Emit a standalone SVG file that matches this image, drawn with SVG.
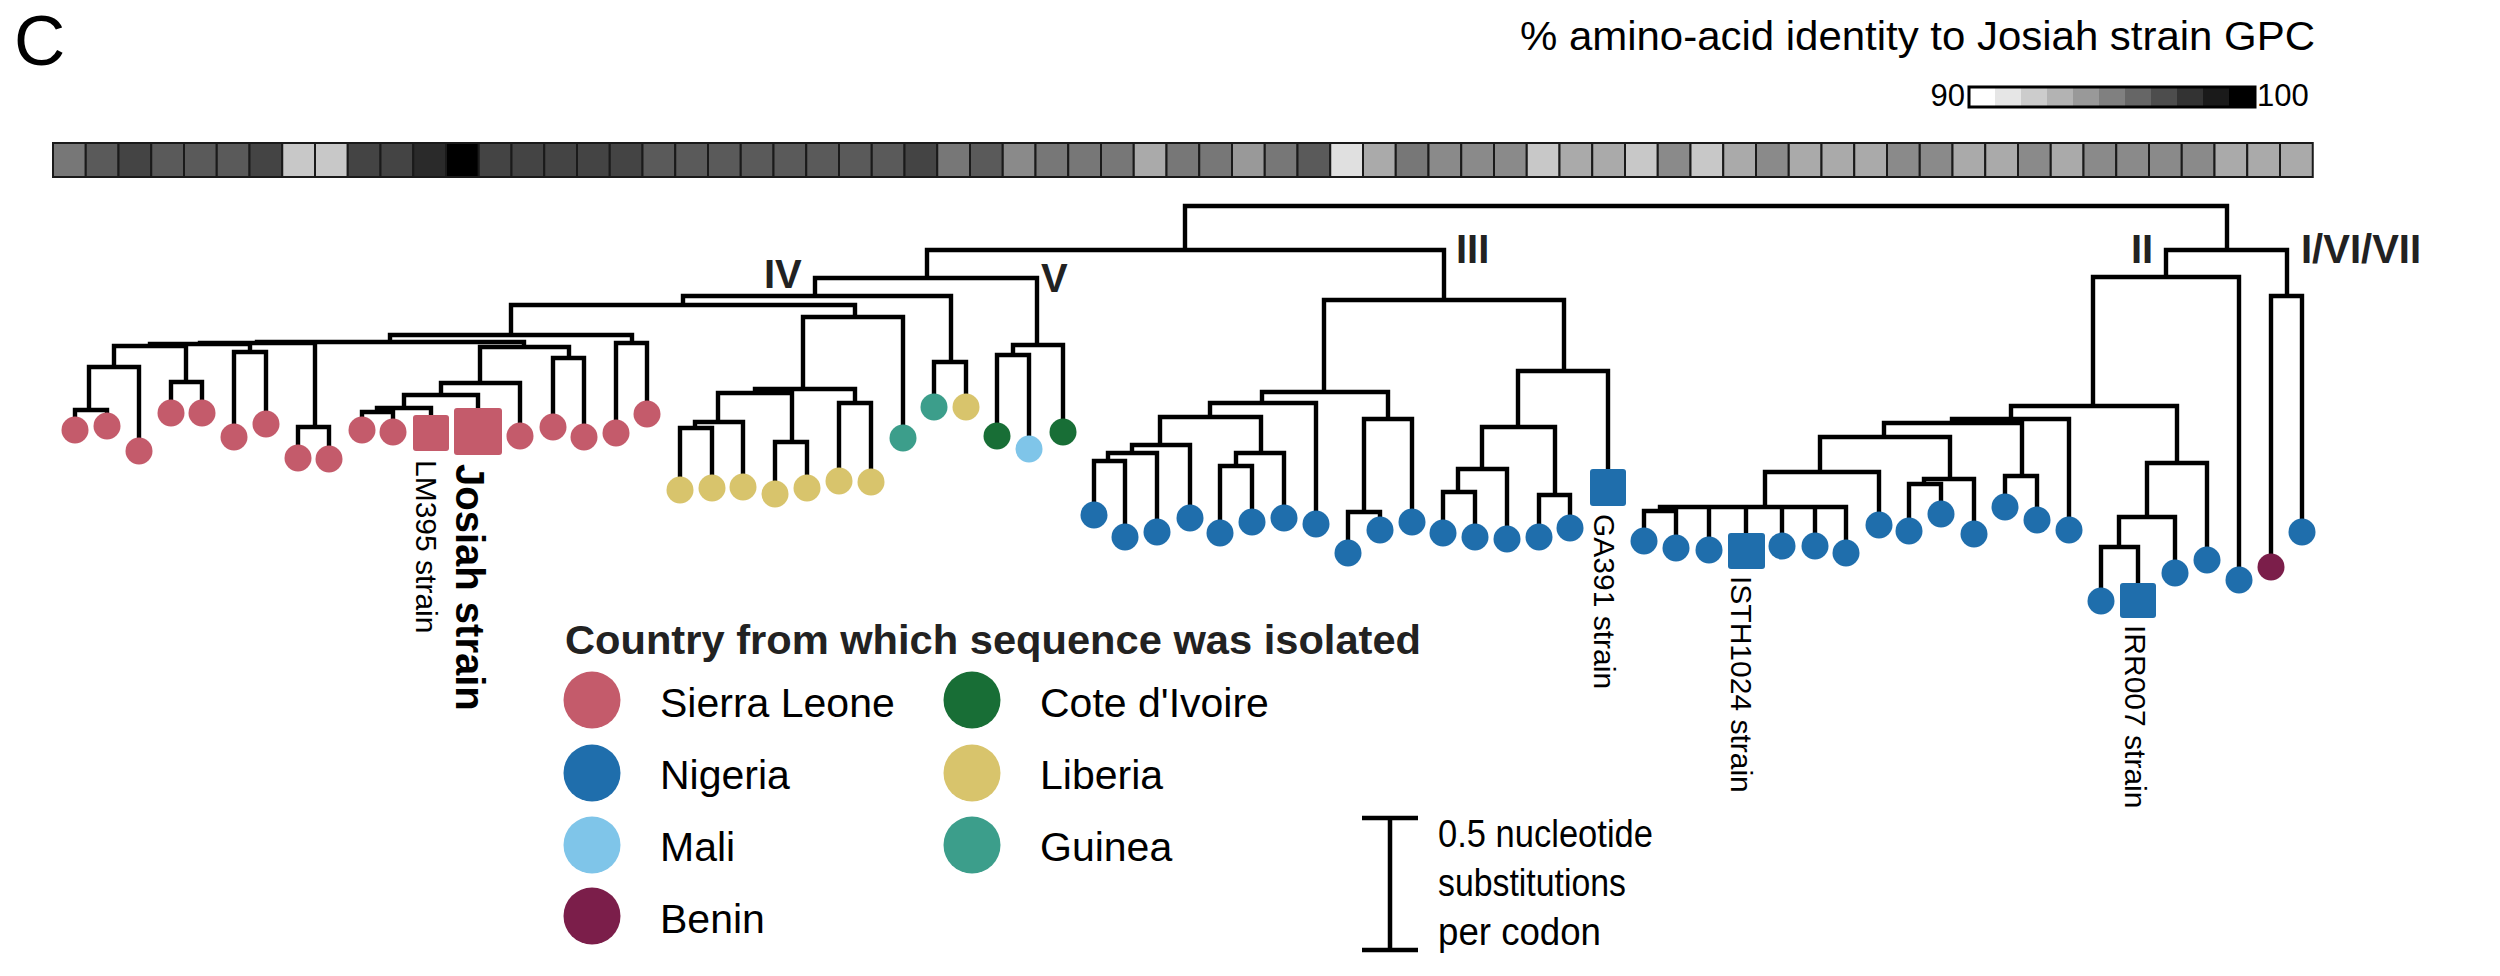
<svg xmlns="http://www.w3.org/2000/svg" width="2500" height="976" viewBox="0 0 2500 976">
<style>
.br{fill:none;stroke:#000;stroke-width:4.4;stroke-linejoin:miter}
.sl{fill:#C45B6B}.ng{fill:#1F6EAC}.ml{fill:#7FC5E9}.bn{fill:#7B1E4A}.ci{fill:#186E36}.lb{fill:#D8C46C}.gn{fill:#3C9E8B}
.t{font-family:"Liberation Sans",Arial,sans-serif;fill:#000}
.b{font-family:"Liberation Sans",Arial,sans-serif;font-weight:bold;fill:#222}
.hm rect{stroke:#1a1a1a;stroke-width:2}
</style>
<rect width="2500" height="976" fill="#fff"/>
<text class="t" x="14" y="65" font-size="71">C</text>
<text class="t" x="2315" y="50" font-size="41" text-anchor="end" textLength="795" lengthAdjust="spacingAndGlyphs">% amino-acid identity to Josiah strain GPC</text>
<g id="colorscale">
<text class="t" x="1965" y="106" font-size="31" text-anchor="end">90</text>
<g>
<rect x="1969" y="87" width="26" height="20" fill="#fff"/><rect x="1995" y="87" width="26" height="20" fill="#e6e6e6"/><rect x="2021" y="87" width="26" height="20" fill="#ccc"/><rect x="2047" y="87" width="26" height="20" fill="#b3b3b3"/><rect x="2073" y="87" width="26" height="20" fill="#999"/><rect x="2099" y="87" width="26" height="20" fill="#808080"/><rect x="2125" y="87" width="26" height="20" fill="#666"/><rect x="2151" y="87" width="26" height="20" fill="#4d4d4d"/><rect x="2177" y="87" width="26" height="20" fill="#333"/><rect x="2203" y="87" width="26" height="20" fill="#1a1a1a"/><rect x="2229" y="87" width="26" height="20" fill="#000"/>
</g>
<rect x="1969" y="87" width="286" height="20" fill="none" stroke="#000" stroke-width="3"/>
<text class="t" x="2257" y="106" font-size="31">100</text>
</g>
<g id="heatmap" class="hm">
<rect x="53" y="143" width="32.75" height="34" fill="#777"/>
<rect x="85.75" y="143" width="32.75" height="34" fill="#5a5a5a"/>
<rect x="118.5" y="143" width="32.75" height="34" fill="#444"/>
<rect x="151.25" y="143" width="32.75" height="34" fill="#5a5a5a"/>
<rect x="184" y="143" width="32.75" height="34" fill="#5a5a5a"/>
<rect x="216.75" y="143" width="32.75" height="34" fill="#5a5a5a"/>
<rect x="249.5" y="143" width="32.75" height="34" fill="#444"/>
<rect x="282.25" y="143" width="32.75" height="34" fill="#c8c8c8"/>
<rect x="315" y="143" width="32.75" height="34" fill="#c8c8c8"/>
<rect x="347.75" y="143" width="32.75" height="34" fill="#444"/>
<rect x="380.5" y="143" width="32.75" height="34" fill="#444"/>
<rect x="413.25" y="143" width="32.75" height="34" fill="#2a2a2a"/>
<rect x="446" y="143" width="32.75" height="34" fill="#000"/>
<rect x="478.75" y="143" width="32.75" height="34" fill="#444"/>
<rect x="511.5" y="143" width="32.75" height="34" fill="#444"/>
<rect x="544.25" y="143" width="32.75" height="34" fill="#444"/>
<rect x="577" y="143" width="32.75" height="34" fill="#444"/>
<rect x="609.75" y="143" width="32.75" height="34" fill="#444"/>
<rect x="642.5" y="143" width="32.75" height="34" fill="#5a5a5a"/>
<rect x="675.25" y="143" width="32.75" height="34" fill="#5a5a5a"/>
<rect x="708" y="143" width="32.75" height="34" fill="#5a5a5a"/>
<rect x="740.75" y="143" width="32.75" height="34" fill="#5a5a5a"/>
<rect x="773.5" y="143" width="32.75" height="34" fill="#5a5a5a"/>
<rect x="806.25" y="143" width="32.75" height="34" fill="#5a5a5a"/>
<rect x="839" y="143" width="32.75" height="34" fill="#5a5a5a"/>
<rect x="871.75" y="143" width="32.75" height="34" fill="#5a5a5a"/>
<rect x="904.5" y="143" width="32.75" height="34" fill="#444"/>
<rect x="937.25" y="143" width="32.75" height="34" fill="#777"/>
<rect x="970" y="143" width="32.75" height="34" fill="#5a5a5a"/>
<rect x="1002.75" y="143" width="32.75" height="34" fill="#8a8a8a"/>
<rect x="1035.5" y="143" width="32.75" height="34" fill="#777"/>
<rect x="1068.25" y="143" width="32.75" height="34" fill="#777"/>
<rect x="1101" y="143" width="32.75" height="34" fill="#777"/>
<rect x="1133.75" y="143" width="32.75" height="34" fill="#aaa"/>
<rect x="1166.5" y="143" width="32.75" height="34" fill="#777"/>
<rect x="1199.25" y="143" width="32.75" height="34" fill="#777"/>
<rect x="1232" y="143" width="32.75" height="34" fill="#999"/>
<rect x="1264.75" y="143" width="32.75" height="34" fill="#777"/>
<rect x="1297.5" y="143" width="32.75" height="34" fill="#5a5a5a"/>
<rect x="1330.25" y="143" width="32.75" height="34" fill="#e0e0e0"/>
<rect x="1363" y="143" width="32.75" height="34" fill="#aaa"/>
<rect x="1395.75" y="143" width="32.75" height="34" fill="#777"/>
<rect x="1428.5" y="143" width="32.75" height="34" fill="#8a8a8a"/>
<rect x="1461.25" y="143" width="32.75" height="34" fill="#8a8a8a"/>
<rect x="1494" y="143" width="32.75" height="34" fill="#8a8a8a"/>
<rect x="1526.75" y="143" width="32.75" height="34" fill="#c8c8c8"/>
<rect x="1559.5" y="143" width="32.75" height="34" fill="#aaa"/>
<rect x="1592.25" y="143" width="32.75" height="34" fill="#aaa"/>
<rect x="1625" y="143" width="32.75" height="34" fill="#c8c8c8"/>
<rect x="1657.75" y="143" width="32.75" height="34" fill="#8a8a8a"/>
<rect x="1690.5" y="143" width="32.75" height="34" fill="#c8c8c8"/>
<rect x="1723.25" y="143" width="32.75" height="34" fill="#aaa"/>
<rect x="1756" y="143" width="32.75" height="34" fill="#8a8a8a"/>
<rect x="1788.75" y="143" width="32.75" height="34" fill="#aaa"/>
<rect x="1821.5" y="143" width="32.75" height="34" fill="#aaa"/>
<rect x="1854.25" y="143" width="32.75" height="34" fill="#aaa"/>
<rect x="1887" y="143" width="32.75" height="34" fill="#8a8a8a"/>
<rect x="1919.75" y="143" width="32.75" height="34" fill="#8a8a8a"/>
<rect x="1952.5" y="143" width="32.75" height="34" fill="#aaa"/>
<rect x="1985.25" y="143" width="32.75" height="34" fill="#aaa"/>
<rect x="2018" y="143" width="32.75" height="34" fill="#8a8a8a"/>
<rect x="2050.75" y="143" width="32.75" height="34" fill="#aaa"/>
<rect x="2083.5" y="143" width="32.75" height="34" fill="#8a8a8a"/>
<rect x="2116.25" y="143" width="32.75" height="34" fill="#8a8a8a"/>
<rect x="2149" y="143" width="32.75" height="34" fill="#8a8a8a"/>
<rect x="2181.75" y="143" width="32.75" height="34" fill="#8a8a8a"/>
<rect x="2214.5" y="143" width="32.75" height="34" fill="#aaa"/>
<rect x="2247.25" y="143" width="32.75" height="34" fill="#aaa"/>
<rect x="2280" y="143" width="32.75" height="34" fill="#aaa"/>
</g>
<g id="connectors" class="br">
<path d="M1185 250V206H2227V250"/>
<path d="M927 278V250H1444V300"/>
<path d="M815 296V278H1037V345"/>
<path d="M683 305V296H951V362"/>
<path d="M511 335V305H855V317"/>
<path d="M390 342V335H632V343"/>
<path d="M257 343V342H524V347"/>
<path d="M200 344V343H315V427"/>
<path d="M150 346V344H250V352"/>
<path d="M114 367V346H186V382"/>
<path d="M89 410V367H139V451"/>
<path d="M75 430V410H107V426"/>
<path d="M171 413V382H202V413"/>
<path d="M234 437V352H266V424"/>
<path d="M298 458V427H329V459"/>
<path d="M480 383V347H569V358"/>
<path d="M441 395V383H520V436"/>
<path d="M404 408V395H478V432"/>
<path d="M377 412V408H431V433"/>
<path d="M362 430V412H393V432"/>
<path d="M553 427V358H584V437"/>
<path d="M616 433V343H647V414"/>
<path d="M803 389V317H903V438"/>
<path d="M755 393V389H855V403"/>
<path d="M718 422V393H792V442"/>
<path d="M695 428V422H743V487"/>
<path d="M680 490V428H712V488"/>
<path d="M775 494V442H807V488"/>
<path d="M839 481V403H871V482"/>
<path d="M934 407V362H966V407"/>
<path d="M1013 355V345H1063V432"/>
<path d="M997 436V355H1029V449"/>
<path d="M1324 392V300H1564V371"/>
<path d="M1262 403V392H1388V419"/>
<path d="M1210 417V403H1316V524"/>
<path d="M1160 445V417H1261V453"/>
<path d="M1132 453V445H1190V518"/>
<path d="M1108 461V453H1157V532"/>
<path d="M1094 515V461H1125V537"/>
<path d="M1236 466V453H1284V518"/>
<path d="M1220 533V466H1252V522"/>
<path d="M1364 512V419H1412V522"/>
<path d="M1348 553V512H1380V530"/>
<path d="M1518 427V371H1608V488"/>
<path d="M1482 469V427H1555V495"/>
<path d="M1458 492V469H1507V539"/>
<path d="M1443 533V492H1475V537"/>
<path d="M1539 537V495H1570V528"/>
<path d="M2166 277V250H2287V296"/>
<path d="M2093 406V277H2239V580"/>
<path d="M2011 419V406H2177V463"/>
<path d="M1952 423V419H2069V530"/>
<path d="M1884 437V423H2022V476"/>
<path d="M1820 472V437H1950V479"/>
<path d="M1765 507V472H1879V525"/>
<path d="M1660 511V507H1846V553M1709 507V550M1746 507V552M1782 507V546M1815 507V546"/>
<path d="M1644 541V511H1676V548"/>
<path d="M1924 484V479H1974V534"/>
<path d="M1909 531V484H1941V514"/>
<path d="M2005 507V476H2037V520"/>
<path d="M2147 517V463H2207V560"/>
<path d="M2119 547V517H2175V573"/>
<path d="M2101 601V547H2138V600"/>
<path d="M2271 567V296H2302V532"/>
</g>
<g id="clade-labels">
<text class="b" x="764" y="288" font-size="40">IV</text>
<text class="b" x="1041" y="292" font-size="40">V</text>
<text class="b" x="1456" y="263" font-size="40">III</text>
<text class="b" x="2131" y="263" font-size="40">II</text>
<text class="b" x="2301" y="263" font-size="40">I/VI/VII</text>
</g>
<g id="tips">
<g id="sl1"><circle class="sl" cx="75" cy="430" r="13.5"/></g>
<g id="sl2"><circle class="sl" cx="107" cy="426" r="13.5"/></g>
<g id="sl3"><circle class="sl" cx="139" cy="451" r="13.5"/></g>
<g id="sl4"><circle class="sl" cx="171" cy="413" r="13.5"/></g>
<g id="sl5"><circle class="sl" cx="202" cy="413" r="13.5"/></g>
<g id="sl6"><circle class="sl" cx="234" cy="437" r="13.5"/></g>
<g id="sl7"><circle class="sl" cx="266" cy="424" r="13.5"/></g>
<g id="sl8"><circle class="sl" cx="298" cy="458" r="13.5"/></g>
<g id="sl9"><circle class="sl" cx="329" cy="459" r="13.5"/></g>
<g id="sl10"><circle class="sl" cx="362" cy="430" r="13.5"/></g>
<g id="sl11"><circle class="sl" cx="393" cy="432" r="13.5"/></g>
<g id="lm395"><rect class="sl" x="413" y="415" width="36" height="36" rx="3"/></g>
<g id="josiah"><rect class="sl" x="454" y="408" width="48" height="47" rx="3"/></g>
<g id="sl12"><circle class="sl" cx="520" cy="436" r="13.5"/></g>
<g id="sl13"><circle class="sl" cx="553" cy="427" r="13.5"/></g>
<g id="sl14"><circle class="sl" cx="584" cy="437" r="13.5"/></g>
<g id="sl15"><circle class="sl" cx="616" cy="433" r="13.5"/></g>
<g id="sl16"><circle class="sl" cx="647" cy="414" r="13.5"/></g>
<g id="lb1"><circle class="lb" cx="680" cy="490" r="13.5"/></g>
<g id="lb2"><circle class="lb" cx="712" cy="488" r="13.5"/></g>
<g id="lb3"><circle class="lb" cx="743" cy="487" r="13.5"/></g>
<g id="lb4"><circle class="lb" cx="775" cy="494" r="13.5"/></g>
<g id="lb5"><circle class="lb" cx="807" cy="488" r="13.5"/></g>
<g id="lb6"><circle class="lb" cx="839" cy="481" r="13.5"/></g>
<g id="lb7"><circle class="lb" cx="871" cy="482" r="13.5"/></g>
<g id="gn1"><circle class="gn" cx="903" cy="438" r="13.5"/></g>
<g id="gn2"><circle class="gn" cx="934" cy="407" r="13.5"/></g>
<g id="lb8"><circle class="lb" cx="966" cy="407" r="13.5"/></g>
<g id="ci1"><circle class="ci" cx="997" cy="436" r="13.5"/></g>
<g id="ml1"><circle class="ml" cx="1029" cy="449" r="13.5"/></g>
<g id="ci2"><circle class="ci" cx="1063" cy="432" r="13.5"/></g>
<g id="ng1"><circle class="ng" cx="1094" cy="515" r="13.5"/></g>
<g id="ng2"><circle class="ng" cx="1125" cy="537" r="13.5"/></g>
<g id="ng3"><circle class="ng" cx="1157" cy="532" r="13.5"/></g>
<g id="ng4"><circle class="ng" cx="1190" cy="518" r="13.5"/></g>
<g id="ng5"><circle class="ng" cx="1220" cy="533" r="13.5"/></g>
<g id="ng6"><circle class="ng" cx="1252" cy="522" r="13.5"/></g>
<g id="ng7"><circle class="ng" cx="1284" cy="518" r="13.5"/></g>
<g id="ng8"><circle class="ng" cx="1316" cy="524" r="13.5"/></g>
<g id="ng9"><circle class="ng" cx="1348" cy="553" r="13.5"/></g>
<g id="ng10"><circle class="ng" cx="1380" cy="530" r="13.5"/></g>
<g id="ng11"><circle class="ng" cx="1412" cy="522" r="13.5"/></g>
<g id="ng12"><circle class="ng" cx="1443" cy="533" r="13.5"/></g>
<g id="ng13"><circle class="ng" cx="1475" cy="537" r="13.5"/></g>
<g id="ng14"><circle class="ng" cx="1507" cy="539" r="13.5"/></g>
<g id="ng15"><circle class="ng" cx="1539" cy="537" r="13.5"/></g>
<g id="ng16"><circle class="ng" cx="1570" cy="528" r="13.5"/></g>
<g id="ga391"><rect class="ng" x="1590" y="469" width="36" height="37" rx="3"/></g>
<g id="ng17"><circle class="ng" cx="1644" cy="541" r="13.5"/></g>
<g id="ng18"><circle class="ng" cx="1676" cy="548" r="13.5"/></g>
<g id="ng19"><circle class="ng" cx="1709" cy="550" r="13.5"/></g>
<g id="isth1024"><rect class="ng" x="1728" y="533" width="37" height="36" rx="3"/></g>
<g id="ng20"><circle class="ng" cx="1782" cy="546" r="13.5"/></g>
<g id="ng21"><circle class="ng" cx="1815" cy="546" r="13.5"/></g>
<g id="ng22"><circle class="ng" cx="1846" cy="553" r="13.5"/></g>
<g id="ng23"><circle class="ng" cx="1879" cy="525" r="13.5"/></g>
<g id="ng24"><circle class="ng" cx="1909" cy="531" r="13.5"/></g>
<g id="ng25"><circle class="ng" cx="1941" cy="514" r="13.5"/></g>
<g id="ng26"><circle class="ng" cx="1974" cy="534" r="13.5"/></g>
<g id="ng27"><circle class="ng" cx="2005" cy="507" r="13.5"/></g>
<g id="ng28"><circle class="ng" cx="2037" cy="520" r="13.5"/></g>
<g id="ng29"><circle class="ng" cx="2069" cy="530" r="13.5"/></g>
<g id="ng30"><circle class="ng" cx="2101" cy="601" r="13.5"/></g>
<g id="irr007"><rect class="ng" x="2120" y="583" width="36" height="35" rx="3"/></g>
<g id="ng31"><circle class="ng" cx="2175" cy="573" r="13.5"/></g>
<g id="ng32"><circle class="ng" cx="2207" cy="560" r="13.5"/></g>
<g id="ng33"><circle class="ng" cx="2239" cy="580" r="13.5"/></g>
<g id="bn1"><circle class="bn" cx="2271" cy="567" r="13.5"/></g>
<g id="ng34"><circle class="ng" cx="2302" cy="532" r="13.5"/></g>
</g>
<g id="strain-labels">
<text class="t" font-size="30" transform="translate(416 460) rotate(90)">LM395 strain</text>
<text class="t" font-size="40" font-weight="bold" transform="translate(456 464) rotate(90)">Josiah strain</text>
<text class="t" font-size="30" transform="translate(1594 514) rotate(90)">GA391 strain</text>
<text class="t" font-size="30" transform="translate(1731 576) rotate(90)">ISTH1024 strain</text>
<text class="t" font-size="30" transform="translate(2125 625) rotate(90)">IRR007 strain</text>
</g>
<g id="legend">
<text class="b" x="565" y="654" font-size="40" textLength="856" lengthAdjust="spacingAndGlyphs">Country from which sequence was isolated</text>
<g id="leg-sl"><circle class="sl" cx="592" cy="700" r="28.5"/><text class="t" x="660" y="717" font-size="41">Sierra Leone</text></g>
<g id="leg-ng"><circle class="ng" cx="592" cy="773" r="28.5"/><text class="t" x="660" y="789" font-size="41">Nigeria</text></g>
<g id="leg-ml"><circle class="ml" cx="592" cy="845" r="28.5"/><text class="t" x="660" y="861" font-size="41">Mali</text></g>
<g id="leg-bn"><circle class="bn" cx="592" cy="916" r="28.5"/><text class="t" x="660" y="933" font-size="41">Benin</text></g>
<g id="leg-ci"><circle class="ci" cx="972" cy="700" r="28.5"/><text class="t" x="1040" y="717" font-size="41">Cote d'Ivoire</text></g>
<g id="leg-lb"><circle class="lb" cx="972" cy="773" r="28.5"/><text class="t" x="1040" y="789" font-size="41">Liberia</text></g>
<g id="leg-gn"><circle class="gn" cx="972" cy="845" r="28.5"/><text class="t" x="1040" y="861" font-size="41">Guinea</text></g>
</g>
<g id="scalebar">
<path d="M1362 818H1418M1390 818V950M1362 950H1418" fill="none" stroke="#000" stroke-width="4.5"/>
<text class="t" x="1438" y="847" font-size="38" textLength="215" lengthAdjust="spacingAndGlyphs">0.5 nucleotide</text>
<text class="t" x="1438" y="896" font-size="38" textLength="188" lengthAdjust="spacingAndGlyphs">substitutions</text>
<text class="t" x="1438" y="945" font-size="38" textLength="163" lengthAdjust="spacingAndGlyphs">per codon</text>
</g>
</svg>
